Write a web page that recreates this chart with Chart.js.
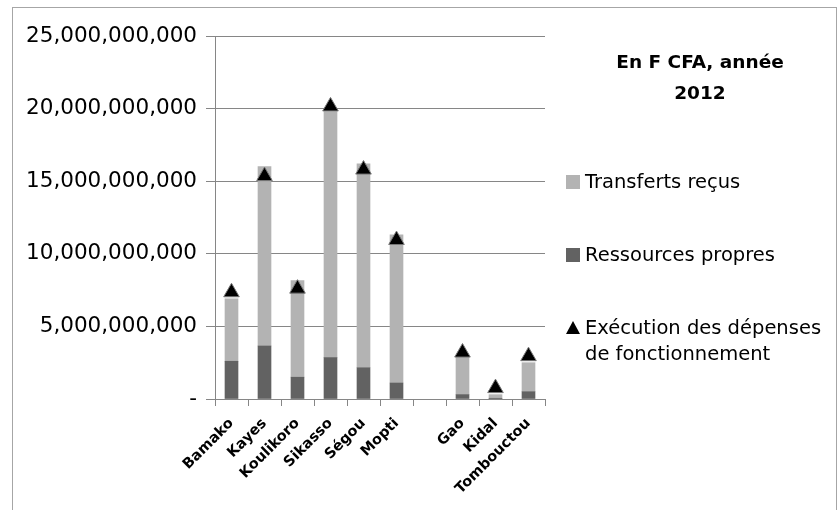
<!DOCTYPE html>
<html>
<head>
<meta charset="utf-8">
<script src="https://cdn.jsdelivr.net/npm/chart.js@4.4.0/dist/chart.umd.min.js"></script>
<style>
  body { margin: 0; background: #fff; }
  #wrap { position: relative; width: 838px; height: 510px; overflow: hidden; font-family: "DejaVu Sans", sans-serif; color: #000; }
  #frame { position: absolute; left: 12px; top: 7px; width: 825px; height: 520px; border: 1px solid #a6a6a6; box-sizing: border-box; }
  #chart { position: absolute; left: 0; top: 0; }
  .title { position: absolute; left: 600px; width: 200px; text-align: center; font-weight: bold; font-size: 18.5px; line-height: 31px; top: 46px; }
  .leg { position: absolute; left: 566px; font-size: 19.5px; line-height: 26px; }
  .leg .box { display: inline-block; width: 14px; height: 14px; margin-right: 5px; vertical-align: -1px; }
  .leg .tri { display: inline-block; width: 0; height: 0; border-left: 7px solid transparent; border-right: 7px solid transparent; border-bottom: 13px solid #000; margin-right: 5px; vertical-align: 0; }
</style>
</head>
<body>
<div id="wrap">
  <div id="frame"></div>
  <canvas id="chart" width="838" height="510"></canvas>
  <div class="title">En F CFA, année<br>2012</div>
  <div class="leg" style="top:169px"><span class="box" style="background:#b3b3b3"></span>Transferts reçus</div>
  <div class="leg" style="top:242px"><span class="box" style="background:#626262"></span>Ressources propres</div>
  <div class="leg" style="top:315px"><span class="tri"></span>Exécution des dépenses<br><span style="padding-left:19px">de fonctionnement</span></div>
</div>
<script>
// Données régionales, en F CFA (2012)
const categories = ["Bamako", "Kayes", "Koulikoro", "Sikasso", "Ségou", "Mopti", "", "Gao", "Kidal", "Tombouctou"];
const ressourcesPropres = [2600000000, 3650000000, 1500000000, 2850000000, 2150000000, 1100000000, null, 300000000, 50000000, 500000000];
const transfertsRecus = [4300000000, 12350000000, 6650000000, 16950000000, 14050000000, 10200000000, null, 2600000000, 250000000, 2000000000];
const executionDepenses = [7350000000, 15350000000, 7600000000, 20150000000, 15800000000, 10950000000, null, 3200000000, 750000000, 2950000000];
const yTicks = [0, 5000000000, 10000000000, 15000000000, 20000000000, 25000000000];

const axisColor = "#868686";

var ctx = document.getElementById("chart").getContext("2d");
var myChart = new Chart(ctx, {
    type: "bar",
    data: {
        labels: categories,
        datasets: [
            {
                label: "Ressources propres",
                data: ressourcesPropres,
                backgroundColor: "#626262",
                order: 1,
            },
            {
                label: "Transferts reçus",
                data: transfertsRecus,
                backgroundColor: "#b3b3b3",
                order: 1,
            },
            {
                type: "line",
                label: "Exécution des dépenses de fonctionnement",
                data: executionDepenses,
                showLine: false,
                pointStyle: "triangle",
                pointRadius: 9,
                pointBackgroundColor: "#000",
                pointBorderColor: "#777",
                pointBorderWidth: 1,
                order: 0,
            },
        ],
    },
    options: {
        responsive: false,
        animation: false,
        events: [],
        layout: { padding: { left: 10, top: 36, right: 293, bottom: 0 } },
        plugins: { legend: { display: false }, tooltip: { enabled: false } },
        datasets: { bar: { barThickness: 13 } },
        scales: {
            x: {
                stacked: true,
                offset: true,
                grid: { display: true, drawOnChartArea: false, drawTicks: true, offset: true, tickLength: 7, color: axisColor },
                border: { color: axisColor },
                ticks: {
                    minRotation: 45, maxRotation: 45, autoSkip: false, padding: 9,
                    color: "#000",
                    font: { family: "DejaVu Sans", size: 14.5, weight: "bold" },
                },
                afterFit: (s) => { s.height = 111; },
            },
            y: {
                stacked: true,
                min: 0,
                max: 25000000000,
                afterBuildTicks: (s) => { s.ticks = yTicks.map((v) => ({ value: v })); },
                grid: { color: axisColor, tickLength: 9 },
                border: { color: axisColor },
                ticks: {
                    color: "#000",
                    padding: 9,
                    font: { family: "DejaVu Sans", size: 21.5 },
                    callback: (v) => (v === 0 ? "-" : v.toLocaleString("en-US")),
                },
                afterFit: (s) => { s.width = 205; },
            },
        },
    },
});
</script>
</body>
</html>
